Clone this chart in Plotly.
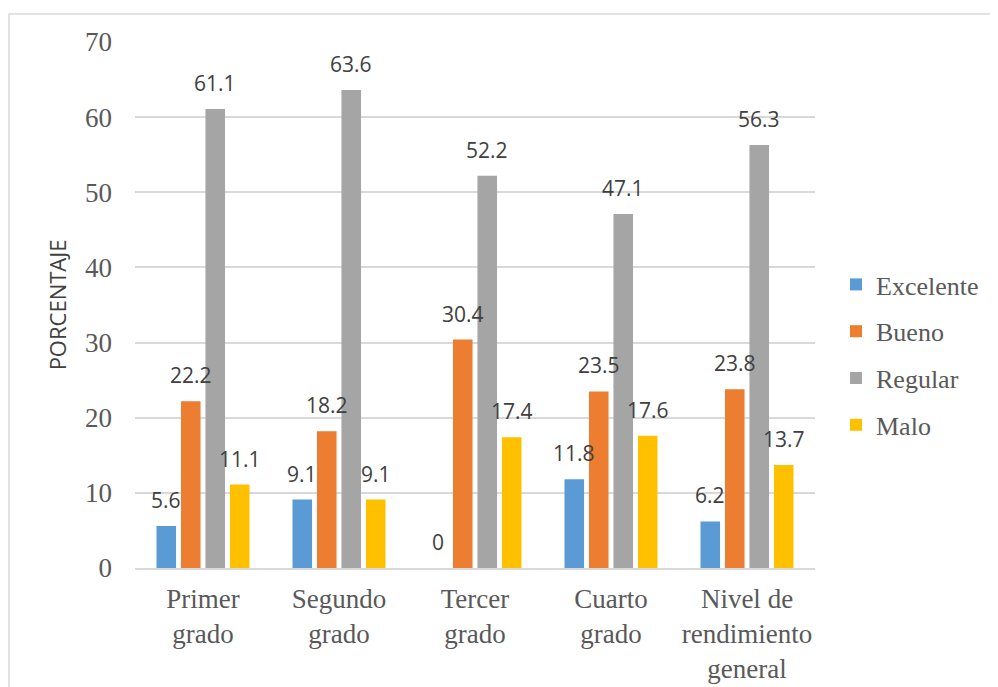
import plotly.graph_objects as go

categories = ["Primer<br>grado", "Segundo<br>grado", "Tercer<br>grado", "Cuarto<br>grado", "Nivel de<br>rendimiento<br>general"]
series_names = ["Excelente", "Bueno", "Regular", "Malo"]
excelente = [5.6, 9.1, 0, 11.8, 6.2]
bueno = [22.2, 18.2, 30.4, 23.5, 23.8]
regular = [61.1, 63.6, 52.2, 47.1, 56.3]
malo = [11.1, 9.1, 17.4, 17.6, 13.7]
y_ticks = [0, 10, 20, 30, 40, 50, 60, 70]

values = [excelente, bueno, regular, malo]
colors = ["#5B9BD5", "#ED7D31", "#A5A5A5", "#FFC000"]

OFF = 8  # default page body margin
W, H = 998 - OFF, 687 - OFF
ML, MT = 135 - OFF, 42 - OFF
MR = W - (815 - OFF)
MB = H - (568 - OFF)
pw = W - ML - MR
ph = H - MT - MB

def px_x(xpage):
    return (xpage - OFF - ML) / pw

def px_y(ypage):
    return (H - MB - (ypage - OFF)) / ph

fig = go.Figure()
for name, vals, col in zip(series_names, values, colors):
    fig.add_trace(go.Bar(x=categories, y=vals, name=name, legendgroup=name,
                         marker=dict(color=col, line=dict(width=0))))

# data labels
group_w = pw / len(categories)
bargap = 0.28
slot = group_w * (1 - bargap) / 4
offsets = [(i - 1.5) * slot for i in range(4)]
for vals, off in zip(values, offsets):
    for c, v in zip(categories, vals):
        fig.add_annotation(x=c, y=v, text=f"{v:g}", showarrow=False, xshift=off, yshift=26,
                           yanchor="middle", font=dict(family="Open Sans", size=21, color="#404040"))

# outer chart border (top and left)
x0, x1 = px_x(9), px_x(997)
yt, yb = px_y(14), px_y(700)
fig.add_shape(type="line", xref="paper", yref="paper", x0=x0, x1=x1, y0=yt, y1=yt,
              line=dict(color="#D9D9D9", width=1.5))
fig.add_shape(type="line", xref="paper", yref="paper", x0=x0, x1=x0, y0=yt, y1=yb,
              line=dict(color="#D9D9D9", width=1.5))

fig.update_layout(
    width=W, height=H,
    margin=dict(l=ML, r=MR, t=MT, b=MB, autoexpand=False),
    paper_bgcolor="white", plot_bgcolor="white",
    barmode="group", bargap=bargap, bargroupgap=0.2,
    showlegend=True,
    legend=dict(x=px_x(836), y=px_y(355), xanchor="left", yanchor="middle",
                font=dict(family="Liberation Serif", size=26, color="#595959"),
                tracegroupgap=10, itemwidth=30, bgcolor="rgba(0,0,0,0)"),
    xaxis=dict(showgrid=False, showline=True, linecolor="#D9D9D9", linewidth=1.5,
               tickfont=dict(family="Liberation Serif", size=27, color="#595959"),
               ticks="", ticklabelstandoff=6, automargin=False),
    yaxis=dict(range=[0, 70], tickvals=y_ticks, showgrid=True, gridcolor="#D9D9D9", gridwidth=1.5,
               zeroline=False, showline=False, ticks="",
               tickfont=dict(family="Liberation Serif", size=27, color="#595959"),
               ticklabelstandoff=22, automargin=False,
               title=dict(text="PORCENTAJE", font=dict(family="Open Sans", size=22, color="#404040"), standoff=12)),
)

fig.write_html("out.html")
